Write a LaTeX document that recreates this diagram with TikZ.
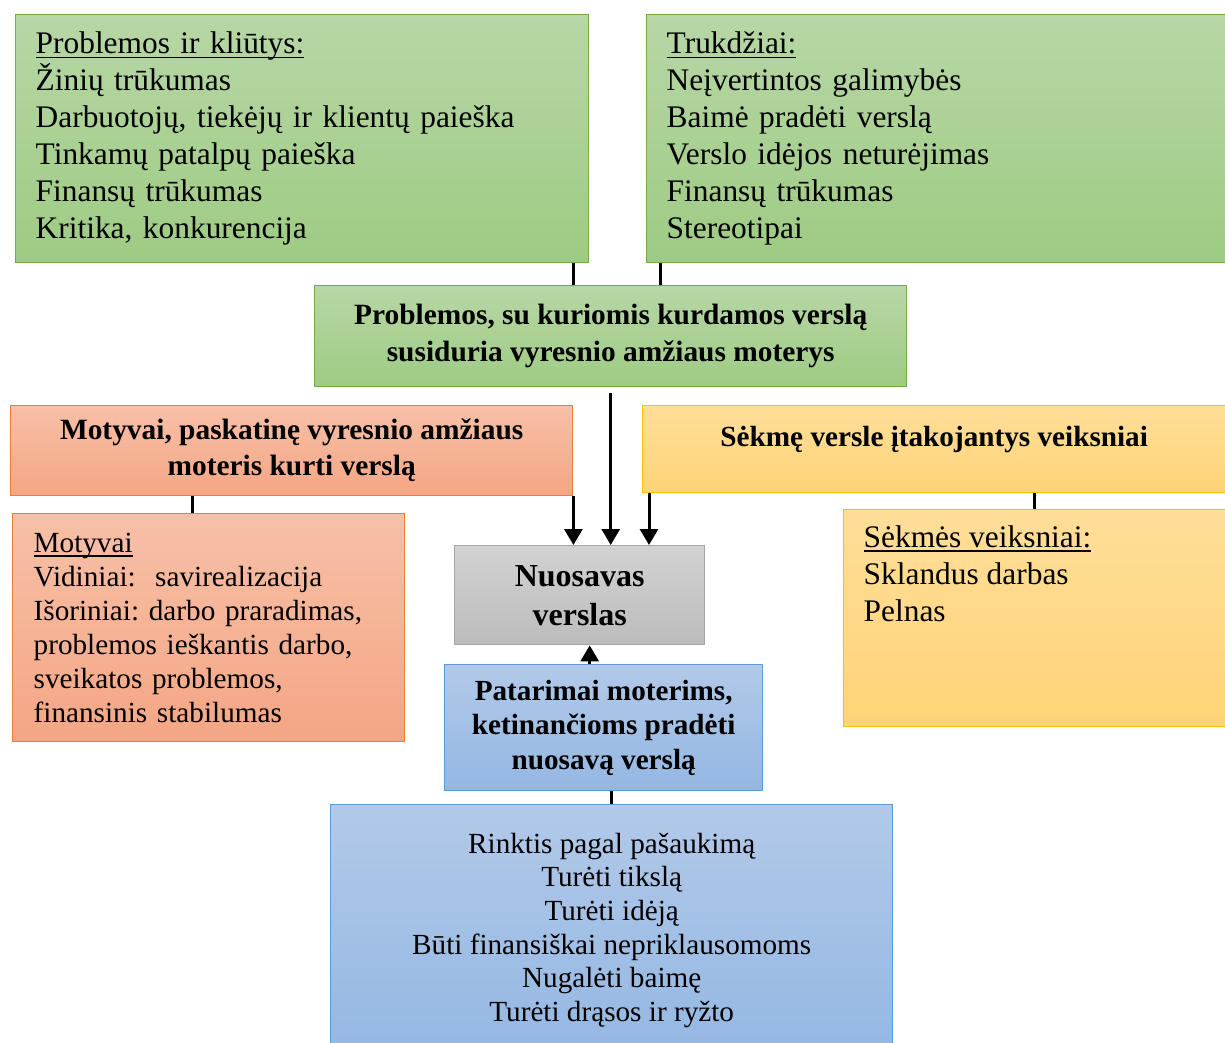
\documentclass[tikz,border=0pt]{standalone}
\usepackage{fontspec}
\setmainfont{Liberation Serif}
\usepackage{tikz}
\usetikzlibrary{arrows.meta}
\newcommand\undl[1]{\leavevmode\setbox0\hbox{#1}\rlap{\rule[-2.2pt]{\wd0}{0.7pt}}\box0}
\tikzset{
  bx/.style={draw, rectangle, line width=0.7pt, anchor=north west, inner sep=0pt},
  hd/.style={bx, align=center, font=\fontsize{14.7}{18.5}\selectfont\bfseries\frenchspacing},
  ls/.style={bx, align=left, inner xsep=10pt, font=\fontsize{15.7}{18.5}\selectfont\frenchspacing},
  grn/.style={draw=gD, top color=gT, bottom color=gB},
  org/.style={draw=oD, top color=oT, bottom color=oB},
  ylw/.style={draw=yD, top color=yT, bottom color=yB},
  gry/.style={draw=sD, top color=sT, bottom color=sB},
  blu/.style={draw=bD, top color=bT, bottom color=bB},
  arr/.style={-{Triangle[length=8pt,width=9pt]}, line width=1.5pt},
  ln/.style={line width=1.5pt}
}
\definecolor{gT}{RGB}{183,215,166}
\definecolor{gB}{RGB}{158,203,131}
\definecolor{gD}{RGB}{112,173,71}
\definecolor{oT}{RGB}{247,192,168}
\definecolor{oB}{RGB}{244,166,132}
\definecolor{oD}{RGB}{237,125,49}
\definecolor{yT}{RGB}{255,222,153}
\definecolor{yB}{RGB}{255,212,120}
\definecolor{yD}{RGB}{255,192,0}
\definecolor{sT}{RGB}{210,210,210}
\definecolor{sB}{RGB}{188,188,188}
\definecolor{sD}{RGB}{165,165,165}
\definecolor{bT}{RGB}{178,201,233}
\definecolor{bB}{RGB}{148,183,226}
\definecolor{bD}{RGB}{91,155,213}

\begin{document}
\begin{tikzpicture}[x=0.5pt, y=-0.5pt]
  \useasboundingbox (0,0) rectangle (1225,1043);
  \node[ls, grn, minimum width=286.5pt, minimum height=124pt, text width=266.5pt] (kl) at (15,14) {\undl{Problemos ir kliūtys:}\\Žinių trūkumas\\Darbuotojų, tiekėjų ir klientų paieška\\Tinkamų patalpų paieška\\Finansų trūkumas\\Kritika, konkurencija};
  \node[ls, grn, minimum width=289.5pt, minimum height=124pt, text width=269.5pt] (tr) at (646,14) {\undl{Trukdžiai:}\\Neįvertintos galimybės\\Baimė pradėti verslą\\Verslo idėjos neturėjimas\\Finansų trūkumas\\Stereotipai};
  \node[hd, grn, minimum width=296pt, minimum height=50.5pt] (pr) at (314,285) {Problemos, su kuriomis kurdamos verslą\\susiduria vyresnio amžiaus moterys};
  \node[hd, org, minimum width=281pt, minimum height=45pt, font=\fontsize{14.7}{18}\selectfont\bfseries] (mt) at (10,405) {Motyvai, paskatinę vyresnio amžiaus\\moteris kurti verslą};
  \node[ls, org, minimum width=196pt, minimum height=114pt, inner xsep=10.5pt, text width=175pt, font=\fontsize{14.6}{17}\selectfont\frenchspacing] (mv) at (12,513) {\undl{Motyvai}\\Vidiniai:\ \ savirealizacija\\Išoriniai: darbo praradimas,\\problemos ieškantis darbo,\\sveikatos problemos,\\finansinis stabilumas};
  \node[bx, ylw, minimum width=291.5pt, minimum height=43.5pt, text depth=13pt, font=\fontsize{14.6}{17}\selectfont\bfseries] (sk) at (642,405) {Sėkmę versle įtakojantys veiksniai};
  \node[bx, ylw, minimum width=191pt, minimum height=108.5pt, inner xsep=10pt, inner ysep=8pt, font=\fontsize{15.7}{18.5}\selectfont] (sv) at (843,509) {\parbox[c][92.5pt][t]{171pt}{\undl{Sėkmės veiksniai:}\\Sklandus darbas\\Pelnas}};
  \node[hd, gry, minimum width=125pt, minimum height=49.5pt, font=\fontsize{16}{19.5}\selectfont\bfseries] (nv) at (454,545) {Nuosavas\\verslas};
  \node[hd, blu, minimum width=159pt, minimum height=63pt, font=\fontsize{14.6}{17.3}\selectfont\bfseries] (pt) at (444,664) {Patarimai moterims,\\ketinančioms pradėti\\nuosavą verslą};
  \node[bx, blu, minimum width=281pt, minimum height=125.5pt, align=center, font=\fontsize{14.6}{16.8}\selectfont] (ps) at (330,804) {Rinktis pagal pašaukimą\\Turėti tikslą\\Turėti idėją\\Būti finansiškai nepriklausomoms\\Nugalėti baimę\\Turėti drąsos ir ryžto};
  \draw[ln] ([xshift=-8pt]kl.south east) -- ([xshift=-8pt]kl.south east |- pr.north);
  \draw[ln] ([xshift=7pt]tr.south west) -- ([xshift=7pt]tr.south west |- pr.north);
  \draw[ln] ([xshift=-8pt]mv.north |- mt.south) -- ([xshift=-8pt]mv.north);
  \draw[ln] (sv.north |- sk.south) -- (sv.north);
  \draw[arr] (mt.south east) -- (mt.south east |- nv.north);
  \draw[arr, shorten <=3pt] (pr.south) -- (pr.south |- nv.north);
  \draw[arr] ([xshift=3.5pt]sk.south west) -- ([xshift=3.5pt]sk.south west |- nv.north);
  \draw[arr] ([xshift=5pt]nv.south |- pt.north) -- ([xshift=5pt]nv.south);
  \draw[ln] (ps.north |- pt.south) -- (ps.north);
\end{tikzpicture}
\end{document}
